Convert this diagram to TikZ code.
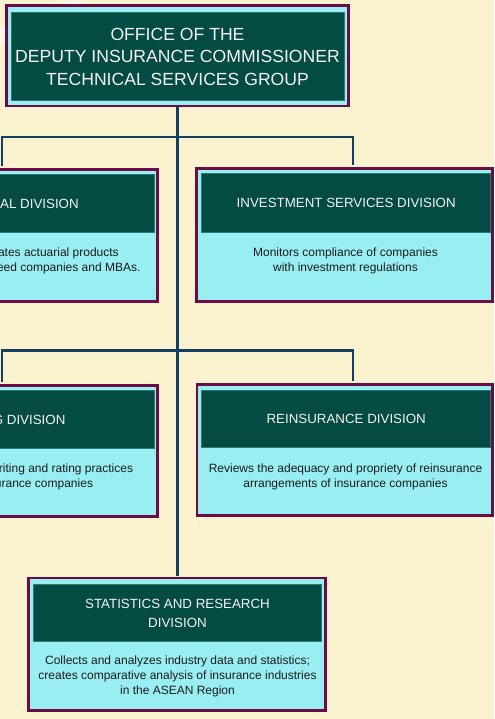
\documentclass[tikz,border=0pt]{standalone}
\usepackage{fontspec}
\setmainfont{Liberation Sans}
\usetikzlibrary{fit}

\definecolor{paper}{HTML}{FBF3CF}
\definecolor{boxedge}{HTML}{6D0B46}
\definecolor{boxfill}{HTML}{98EEF1}
\definecolor{headfill}{HTML}{034B43}
\definecolor{headline}{HTML}{2A7A70}
\definecolor{linkcol}{HTML}{133F62}
\definecolor{headtext}{HTML}{F4F4F4}
\definecolor{bodytext}{HTML}{1C1C1C}

\begin{document}
\begin{tikzpicture}[x=0.75pt,y=-0.75pt,
  frame/.style={rectangle, draw=boxedge, fill=boxfill, line width=1.95pt,
    inner sep=0pt, outer sep=0pt},
  header/.style={rectangle, draw=headline, fill=headfill, line width=0.5pt,
    inner sep=0pt, outer sep=0pt},
  toptext/.style={text=headtext, align=center, inner sep=0pt,
    font=\fontsize{13.2}{16.9}\selectfont},
  title/.style={text=headtext, align=center, inner sep=0pt,
    font=\fontsize{10}{14.25}\selectfont},
  desc/.style={text=bodytext, align=center, inner sep=0pt,
    font=\fontsize{9}{11.1}\selectfont},
  trunk/.style={draw=linkcol, line width=1.95pt},
  branch/.style={draw=linkcol, line width=1.65pt, line join=miter}
]
% page and background
\useasboundingbox (0,0) rectangle (494,719);
\fill[paper] (0,0) rectangle (494,719);
\fill[white, opacity=0.45] (0,28) -- (66,0) -- (86,0) -- (0,46) -- cycle;

% boxes
\node[frame, fit={(6.3,5.3) (348.7,106)}] (top) {};
\node[header, fit={(11.7,12) (344,100.7)}] (toph) {};
\node[toptext] (topt) at (177.5,56.8)
  {OFFICE OF THE\\DEPUTY INSURANCE COMMISSIONER\\TECHNICAL SERVICES GROUP};

\node[frame, fit={(-145,169.6) (157.4,301.4)}] (act) {};
\node[header, fit={(-140,174) (154,232.7)}] (acth) {};
\node[title, anchor=base east] (actt) at (79,208.1) {AL DIVISION};
\node[desc, anchor=base east] (actd1) at (119,256.3) {ates actuarial products};
\node[desc, anchor=base east] (actd2) at (140.7,271.4) {eed companies and MBAs.};

\node[frame, fit={(196.3,168.6) (492.7,301.4)}] (inv) {};
\node[header, fit={(201.7,173.3) (490.7,232.7)}] (invh) {};
\node[title] (invt) at (invh.center) {INVESTMENT SERVICES DIVISION};
\node[desc] (invd) at (345.5,260.5)
  {Monitors compliance of companies\\with investment regulations};

\node[frame, fit={(-145,385.3) (157.4,516.4)}] (rat) {};
\node[header, fit={(-140,390) (154,448.3)}] (rath) {};
\node[title, anchor=base east] (ratt) at (65.7,424.8) {G DIVISION};
\node[desc, anchor=base east] (ratd1) at (133.3,472.3) {riting and rating practices};
\node[desc, anchor=base east] (ratd2) at (93.3,487.4) {urance companies};

\node[frame, fit={(197,384.6) (492.7,515.4)}] (rei) {};
\node[header, fit={(201.7,390) (490.7,447.7)}] (reih) {};
\node[title] (reit) at (reih.center) {REINSURANCE DIVISION};
\node[desc] (reid) at (345.5,476.5)
  {Reviews the adequacy and propriety of reinsurance\\arrangements of insurance companies};

\node[frame, fit={(28.6,578) (325.4,710.4)}] (sta) {};
\node[header, fit={(33.3,584) (321.7,641)}] (stah) {};
\node[title] (stat) at (177.5,613.5) {STATISTICS AND RESEARCH\\DIVISION};
\node[desc] (stad) at (177.5,676.3)
  {Collects and analyzes industry data and statistics;\\creates comparative analysis of insurance industries\\in the ASEAN Region};

% connectors
\coordinate (jA) at (2,136.7);
\coordinate (jB) at (353.3,136.7);
\coordinate (jC) at (2,350.5);
\coordinate (jD) at (353.3,350.5);
\coordinate (tk) at (177.2,0);

\draw[trunk, shorten <=1pt, shorten >=1.8pt] (tk |- top.south) -- (tk |- sta.north);
\draw[branch, shorten <=3pt, shorten >=3pt]
  (jA |- act.north) -- (jA) -- (jB) -- (jB |- inv.north);
\draw[branch, shorten <=2.5pt, shorten >=2.5pt]
  (jC |- rat.north) -- (jC) -- (jD) -- (jD |- rei.north);
\end{tikzpicture}
\end{document}
